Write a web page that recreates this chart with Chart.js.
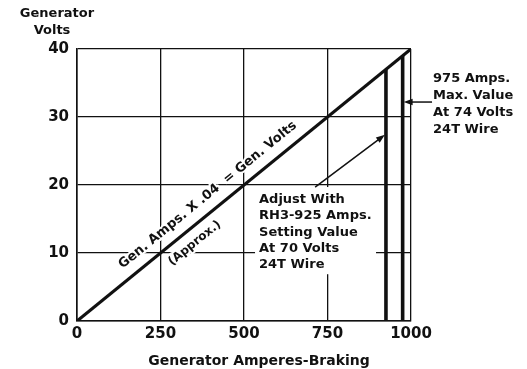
<!DOCTYPE html>
<html lang="en">
<head>
<meta charset="UTF-8">
<title>Generator Volts vs Braking Amperes</title>
<script src="https://cdn.jsdelivr.net/npm/chart.js"></script>
<style>
    body { margin: 0; background: #fff; }
    #voltsChart { display: block; background: #fff; }
</style>
</head>
<body>
<canvas id="voltsChart" width="527" height="369"></canvas>
<script>
// Gen. volts rise with braking amps (approx. amps x .04)
const lineAmps = [0, 1000];
const lineVolts = [0, 40];
// RH3 setting lines, run up to the diagonal
const settingAmps = [925, 975];
const settingVolts = [37, 39];
const ampTicks = [0, 250, 500, 750, 1000];
const voltTicks = [0, 10, 20, 30, 40];

const FONT = "'DejaVu Sans', sans-serif";
const INK = '#111';

function voltsOnLine(a) {
    const t = (a - lineAmps[0]) / (lineAmps[1] - lineAmps[0]);
    return lineVolts[0] + t * (lineVolts[1] - lineVolts[0]);
}

function arrow(ctx, x1, y1, x2, y2) {
    const ang = Math.atan2(y2 - y1, x2 - x1);
    ctx.beginPath();
    ctx.moveTo(x1, y1);
    ctx.lineTo(x2 - 6 * Math.cos(ang), y2 - 6 * Math.sin(ang));
    ctx.lineWidth = 1.5;
    ctx.strokeStyle = INK;
    ctx.stroke();
    ctx.beginPath();
    ctx.moveTo(x2, y2);
    ctx.lineTo(x2 - 9 * Math.cos(ang) + 3.2 * Math.sin(ang), y2 - 9 * Math.sin(ang) - 3.2 * Math.cos(ang));
    ctx.lineTo(x2 - 9 * Math.cos(ang) - 3.2 * Math.sin(ang), y2 - 9 * Math.sin(ang) + 3.2 * Math.cos(ang));
    ctx.closePath();
    ctx.fillStyle = INK;
    ctx.fill();
}

// axis titles, notes and arrows
const notes = {
    id: 'notes',
    afterDatasetsDraw(chart) {
        const { ctx, scales: { x, y } } = chart;
        ctx.save();
        ctx.fillStyle = INK;

        // axis titles
        ctx.font = 'bold 13px ' + FONT;
        ctx.textAlign = 'center';
        ctx.textBaseline = 'middle';
        ctx.fillText('Generator', 57, 14);
        ctx.fillText('Volts', 52, 31);
        ctx.font = 'bold 14px ' + FONT;
        ctx.fillText('Generator Amperes-Braking', (x.left + x.right) / 2 + 15, 361);

        // text along the diagonal
        const ang = Math.atan2(
            y.getPixelForValue(lineVolts[1]) - y.getPixelForValue(lineVolts[0]),
            x.getPixelForValue(lineAmps[1]) - x.getPixelForValue(lineAmps[0]));
        const along = (a, off, txt, size) => {
            ctx.save();
            ctx.translate(x.getPixelForValue(a), y.getPixelForValue(voltsOnLine(a)));
            ctx.rotate(ang);
            ctx.font = 'bold ' + size + 'px ' + FONT;
            ctx.textAlign = 'center';
            ctx.textBaseline = 'middle';
            ctx.lineWidth = 4;
            ctx.strokeStyle = '#fff';
            ctx.strokeText(txt, 0, off);
            ctx.fillText(txt, 0, off);
            ctx.restore();
        };
        along(420, -15, 'Gen. Amps. X .04  = Gen. Volts', 13);
        along(326, 14, '(Approx.)', 12);

        ctx.font = 'bold 13px ' + FONT;
        ctx.textAlign = 'left';
        ctx.textBaseline = 'alphabetic';

        // max value note, right of the plot
        const maxLines = ['975 Amps.', 'Max. Value', 'At 74 Volts', '24T Wire'];
        const mx = x.getPixelForValue(1066), my = y.getPixelForValue(35.2);
        maxLines.forEach((t, i) => ctx.fillText(t, mx, my + i * 17));
        arrow(ctx, mx - 1, y.getPixelForValue(32.2), x.getPixelForValue(978), y.getPixelForValue(32.2));

        // setting note, inside the plot on a white box
        const setLines = ['Adjust With', 'RH3-925 Amps.', 'Setting Value', 'At 70 Volts', '24T Wire'];
        const sx = x.getPixelForValue(545), sy = y.getPixelForValue(17.35);
        ctx.fillStyle = '#fff';
        ctx.fillRect(sx - 4, sy - 16, 121, 4 * 16.3 + 22);
        ctx.fillStyle = INK;
        setLines.forEach((t, i) => ctx.fillText(t, sx, sy + i * 16.3));
        arrow(ctx, x.getPixelForValue(713), y.getPixelForValue(19.7),
                   x.getPixelForValue(922), y.getPixelForValue(27.4));
        ctx.restore();
    }
};

const toPoints = (xs, ys) => xs.map((v, i) => ({ x: v, y: ys[i] }));

const datasets = [{
    data: toPoints(lineAmps, lineVolts),
    borderWidth: 3.2,
}];
settingAmps.forEach((a, i) => {
    datasets.push({
        data: toPoints([a, a], [0, settingVolts[i]]),
        borderWidth: 3.6,
    });
});
datasets.forEach(d => {
    d.showLine = true;
    d.borderColor = INK;
    d.pointRadius = 0;
    d.borderCapStyle = 'butt';
});

const ctx = document.getElementById('voltsChart').getContext('2d');
new Chart(ctx, {
    type: 'scatter',
    data: { datasets },
    options: {
        responsive: false,
        animation: false,
        layout: { padding: { left: 0, right: 116, top: 49, bottom: 0 } },
        plugins: { legend: { display: false }, tooltip: { enabled: false } },
        scales: {
            x: {
                type: 'linear',
                min: ampTicks[0],
                max: ampTicks[ampTicks.length - 1],
                afterBuildTicks: s => { s.ticks = ampTicks.map(v => ({ value: v })); },
                afterFit: s => { s.height = 48; },
                grid: { color: INK, lineWidth: 1.3, drawTicks: false },
                border: { color: INK, width: 1.6 },
                ticks: {
                    color: INK, padding: 4, maxRotation: 0,
                    callback: v => String(v),
                    font: { family: FONT, size: 15, weight: 'bold' }
                }
            },
            y: {
                type: 'linear',
                min: voltTicks[0],
                max: voltTicks[voltTicks.length - 1],
                afterBuildTicks: s => { s.ticks = voltTicks.map(v => ({ value: v })); },
                afterFit: s => { s.width = 77; },
                grid: { color: INK, lineWidth: 1.3, drawTicks: false },
                border: { color: INK, width: 1.6 },
                ticks: {
                    color: INK, padding: 8,
                    callback: v => String(v),
                    font: { family: FONT, size: 15, weight: 'bold' }
                }
            }
        }
    },
    plugins: [notes]
});
</script>
</body>
</html>
